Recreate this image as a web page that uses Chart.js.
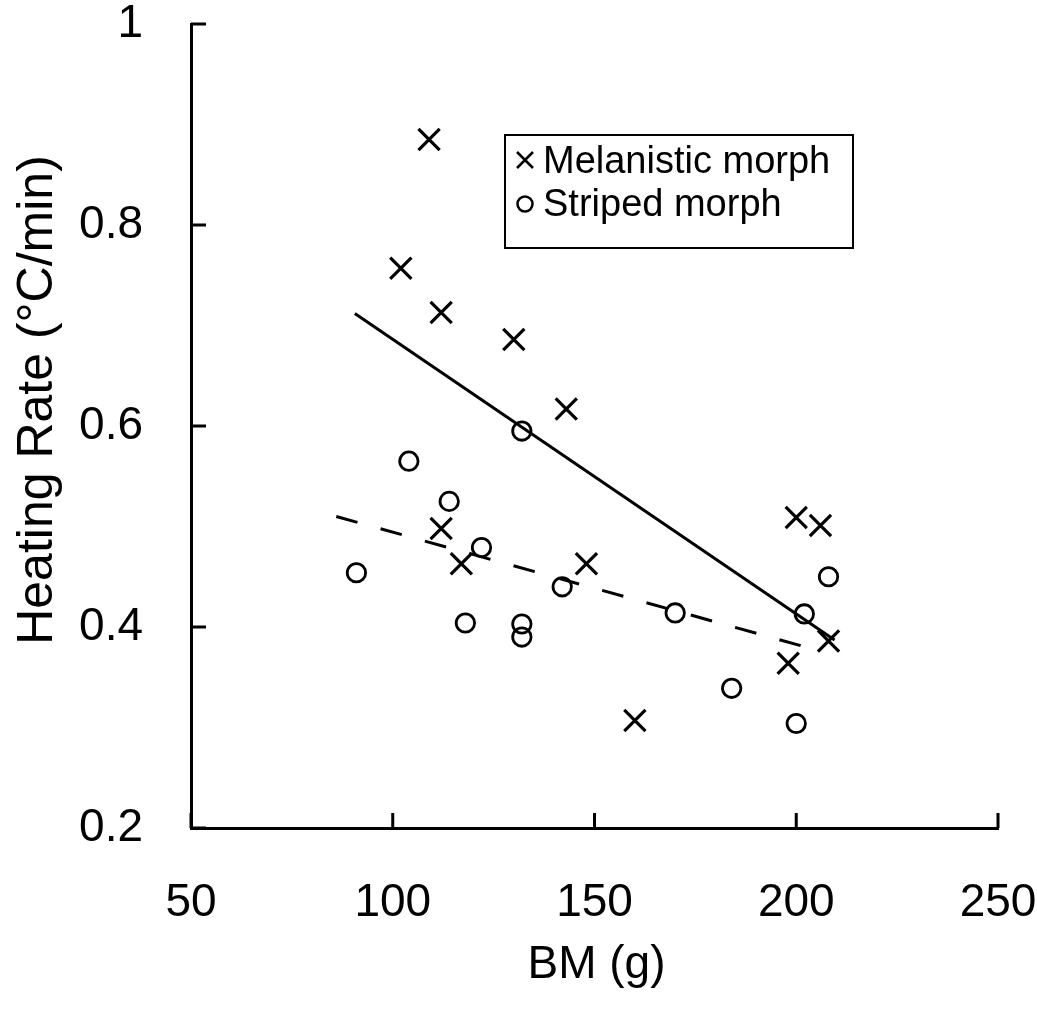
<!DOCTYPE html>
<html>
<head>
<meta charset="utf-8">
<title>Heating rate vs body mass</title>
<script src="https://cdn.jsdelivr.net/npm/chart.js@4.4.1/dist/chart.umd.min.js"></script>
<style>
  html, body { margin: 0; padding: 0; background: #fff; }
  #chart { display: block; }
</style>
</head>
<body>
<canvas id="chart" width="1037" height="1013"></canvas>
<script>
// ===========================
// DATA
// ===========================
const melanisticBM   = [109, 102, 112, 130, 143, 112, 117, 148, 160, 200, 206, 198, 208];
const melanisticRate = [0.885, 0.757, 0.713, 0.686, 0.617, 0.498, 0.463, 0.463, 0.307, 0.509, 0.501, 0.364, 0.386];

const stripedBM   = [91, 104, 114, 118, 122, 132, 132, 132, 142, 170, 184, 200, 202, 208];
const stripedRate = [0.454, 0.565, 0.525, 0.404, 0.479, 0.595, 0.403, 0.390, 0.440, 0.414, 0.339, 0.304, 0.413, 0.450];

// regression lines (end points)
const melanisticFitBM   = [90.6, 209.5];
const melanisticFitRate = [0.712, 0.387];
const stripedFitBM      = [86, 206];
const stripedFitRate    = [0.510, 0.376];

const xTicks = [50, 100, 150, 200, 250];
const yTicks = [0.2, 0.4, 0.6, 0.8, 1];

const seriesLabels = ['Melanistic morph', 'Striped morph'];
const xTitle = 'BM (g)';
const yTitle = 'Heating Rate (\u00B0C/min)';

// ===========================
// HELPERS
// ===========================
const FONT = "'Liberation Sans', Arial, Helvetica, sans-serif";
const toPoints = (xs, ys) => xs.map((x, i) => ({ x: x, y: ys[i] }));

/**
 * Tick marks pointing into the plot, plus axis titles and the boxed legend
 */
const figureDecor = {
  id: 'figureDecor',
  afterDraw(chart) {
    const { ctx, chartArea, scales: { x, y } } = chart;
    ctx.save();

    // inner tick marks
    ctx.strokeStyle = '#000';
    ctx.lineWidth = 3;
    ctx.beginPath();
    x.ticks.forEach(t => {
      const px = x.getPixelForValue(t.value);
      ctx.moveTo(px, chartArea.bottom);
      ctx.lineTo(px, chartArea.bottom - 15);
    });
    y.ticks.forEach(t => {
      const py = y.getPixelForValue(t.value);
      ctx.moveTo(chartArea.left, py);
      ctx.lineTo(chartArea.left + 15, py);
    });
    ctx.stroke();

    // axis titles
    ctx.fillStyle = '#000';
    ctx.textAlign = 'center';
    ctx.textBaseline = 'alphabetic';
    ctx.font = '46px ' + FONT;
    ctx.fillText(xTitle, (chartArea.left + chartArea.right) / 2 + 2, 978);

    ctx.save();
    ctx.translate(52, 400);
    ctx.rotate(-Math.PI / 2);
    ctx.font = '50px ' + FONT;
    ctx.fillText(yTitle, 0, 0);
    ctx.restore();

    // legend box
    const bx = chartArea.left + 314, by = chartArea.top + 111;
    ctx.lineWidth = 2;
    ctx.strokeRect(bx, by, 348, 113);

    ctx.lineWidth = 2.5;
    ctx.beginPath();
    const cx = bx + 20;
    ctx.moveTo(cx - 8, by + 17); ctx.lineTo(cx + 8, by + 33);
    ctx.moveTo(cx + 8, by + 17); ctx.lineTo(cx - 8, by + 33);
    ctx.stroke();
    ctx.beginPath();
    ctx.arc(cx, by + 69, 7.5, 0, Math.PI * 2);
    ctx.stroke();

    ctx.textAlign = 'left';
    ctx.font = '38px ' + FONT;
    ctx.fillText(seriesLabels[0], bx + 38, by + 38);
    ctx.fillText(seriesLabels[1], bx + 38, by + 81);

    ctx.restore();
  }
};

// ===========================
// CHART
// ===========================
Chart.defaults.font.family = FONT;
Chart.defaults.color = '#000';

const axisBase = {
  type: 'linear',
  border: { display: true, color: '#000', width: 3 },
  grid: { display: true, drawOnChartArea: false, drawTicks: false }
};

new Chart(document.getElementById('chart'), {
  type: 'scatter',
  data: {
    datasets: [
      {
        label: seriesLabels[0],
        data: toPoints(melanisticBM, melanisticRate),
        pointStyle: 'crossRot',
        pointRadius: 15,
        pointBorderWidth: 3.2,
        borderColor: '#000',
        backgroundColor: '#000'
      },
      {
        label: seriesLabels[1],
        data: toPoints(stripedBM, stripedRate),
        pointStyle: 'circle',
        pointRadius: 9.2,
        pointBorderWidth: 2.8,
        borderColor: '#000',
        backgroundColor: 'rgba(0,0,0,0)'
      },
      {
        label: 'Melanistic fit',
        data: toPoints(melanisticFitBM, melanisticFitRate),
        showLine: true,
        borderColor: '#000',
        borderWidth: 3,
        pointRadius: 0
      },
      {
        label: 'Striped fit',
        data: toPoints(stripedFitBM, stripedFitRate),
        showLine: true,
        borderColor: '#000',
        borderWidth: 3,
        borderDash: [22, 24],
        pointRadius: 0
      }
    ]
  },
  options: {
    responsive: false,
    animation: false,
    layout: { padding: { top: 24, right: 39, bottom: 0, left: 0 } },
    plugins: {
      legend: { display: false },
      tooltip: { enabled: false }
    },
    scales: {
      x: {
        ...axisBase,
        min: 50,
        max: 250,
        afterBuildTicks: s => { s.ticks = xTicks.map(v => ({ value: v })); },
        afterFit: s => { s.height = 185; s.paddingLeft = 0; s.paddingRight = 0; },
        ticks: { font: { size: 46 }, padding: 48, maxRotation: 0 }
      },
      y: {
        ...axisBase,
        min: 0.2,
        max: 1,
        afterBuildTicks: s => { s.ticks = yTicks.map(v => ({ value: v })); },
        afterFit: s => { s.width = 191; s.paddingTop = 0; s.paddingBottom = 0; },
        ticks: {
          font: { size: 46 },
          padding: 48,
          callback: v => String(+v.toFixed(1))
        }
      }
    }
  },
  plugins: [figureDecor]
});
</script>
</body>
</html>
